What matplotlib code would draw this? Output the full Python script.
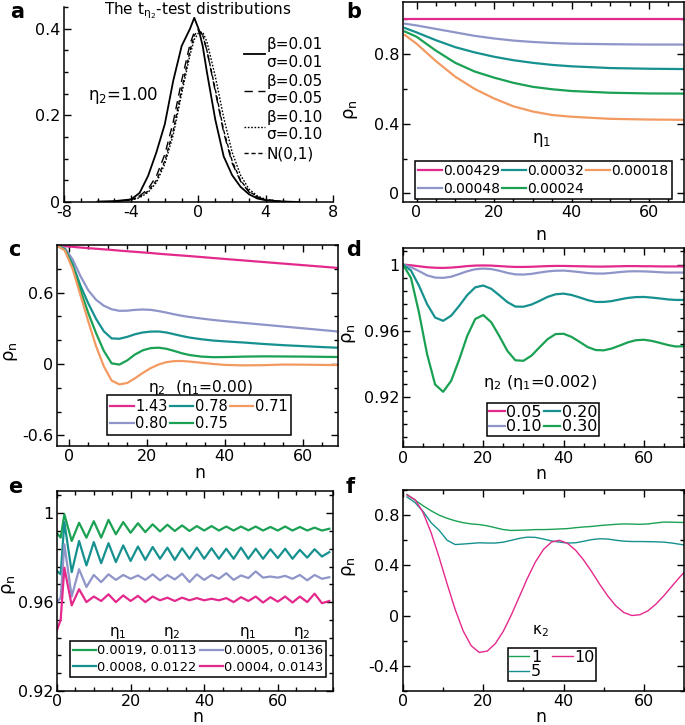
import matplotlib
matplotlib.use("Agg")
import matplotlib.pyplot as plt
from matplotlib.ticker import MultipleLocator, FuncFormatter

plt.rcParams['font.family'] = ['DejaVu Sans']
plt.rcParams['mathtext.fontset'] = 'dejavusans'
plt.rcParams['mathtext.default'] = 'regular'

MAGENTA = '#e4298c'
LAVENDER = '#8f95c8'
TEAL = '#16918f'
GREEN = '#1aa153'
ORANGE = '#f29a62'

# ---- panel a: t-test distributions ----
x_a = [-6, -5, -4, -3.5, -3, -2.5, -2, -1.5, -1, -0.5, -0.25, 0, 0.25, 0.5, 1, 1.5, 2, 2.5, 3, 3.5, 4, 5, 6]
a_b001 = [0.001, 0.002, 0.006, 0.021, 0.06, 0.115, 0.18, 0.28, 0.36, 0.40, 0.425, 0.40, 0.36, 0.30,
          0.19, 0.105, 0.062, 0.035, 0.018, 0.008, 0.004, 0.001, 0.0]
a_b005 = [0.0, 0.001, 0.006, 0.014, 0.03, 0.06, 0.11, 0.185, 0.28, 0.365, 0.392, 0.398, 0.385, 0.35,
          0.255, 0.16, 0.09, 0.048, 0.023, 0.011, 0.005, 0.001, 0.0]
a_b010 = [0.0, 0.001, 0.004, 0.01, 0.022, 0.045, 0.088, 0.155, 0.25, 0.34, 0.375, 0.39, 0.392, 0.37,
          0.29, 0.195, 0.115, 0.062, 0.03, 0.014, 0.006, 0.001, 0.0]
a_norm = [0.0, 0.001, 0.005, 0.012, 0.025, 0.05, 0.095, 0.165, 0.26, 0.35, 0.385, 0.395, 0.385, 0.35,
          0.26, 0.165, 0.095, 0.05, 0.025, 0.012, 0.005, 0.001, 0.0]
a_labels = ['β=0.01\nσ=0.01', 'β=0.05\nσ=0.05', 'β=0.10\nσ=0.10', 'N(0,1)']

# ---- panel b ----
n_b = [-3, 0, 5, 10, 15, 20, 25, 30, 35, 40, 50, 60, 70]
b_eta1 = ['0.00429', '0.00048', '0.00032', '0.00024', '0.00018']
b_vals = [
    [1.0] * 13,
    [0.975, 0.965, 0.945, 0.925, 0.905, 0.89, 0.878, 0.87, 0.864, 0.86, 0.857, 0.855, 0.855],
    [0.95, 0.925, 0.88, 0.84, 0.81, 0.785, 0.765, 0.75, 0.738, 0.73, 0.72, 0.716, 0.714],
    [0.93, 0.90, 0.82, 0.75, 0.70, 0.665, 0.635, 0.612, 0.598, 0.588, 0.578, 0.574, 0.573],
    [0.91, 0.86, 0.76, 0.67, 0.60, 0.545, 0.50, 0.47, 0.45, 0.44, 0.428, 0.424, 0.422],
]
b_colors = [MAGENTA, LAVENDER, TEAL, GREEN, ORANGE]

# ---- panel c ----
n_c = [-3, -1, 1, 3, 5, 7, 9, 11, 13, 15, 17, 19, 21, 23, 25, 27, 29, 31, 34, 37, 40, 45, 50, 55, 60, 65, 70]
c_eta2 = ['1.43', '0.80', '0.78', '0.75', '0.71']
c_vals = [
    [0.995, 0.99, 0.985, 0.979, 0.974, 0.969, 0.964, 0.959, 0.953, 0.948, 0.943, 0.938, 0.933, 0.927,
     0.922, 0.917, 0.912, 0.907, 0.899, 0.891, 0.883, 0.87, 0.857, 0.844, 0.831, 0.818, 0.805],
    [0.995, 0.975, 0.88, 0.74, 0.62, 0.54, 0.49, 0.46, 0.447, 0.448, 0.455, 0.458, 0.455, 0.445,
     0.432, 0.418, 0.405, 0.395, 0.382, 0.37, 0.36, 0.345, 0.33, 0.315, 0.30, 0.285, 0.27],
    [0.995, 0.965, 0.84, 0.66, 0.51, 0.38, 0.275, 0.215, 0.212, 0.228, 0.25, 0.265, 0.272, 0.273,
     0.265, 0.25, 0.235, 0.222, 0.208, 0.197, 0.19, 0.18, 0.168, 0.158, 0.15, 0.142, 0.135],
    [0.995, 0.96, 0.82, 0.62, 0.43, 0.26, 0.11, 0.005, -0.005, 0.03, 0.08, 0.115, 0.133, 0.137,
     0.128, 0.11, 0.09, 0.075, 0.062, 0.057, 0.058, 0.062, 0.064, 0.063, 0.062, 0.06, 0.058],
    [0.995, 0.955, 0.80, 0.58, 0.36, 0.15, -0.02, -0.14, -0.172, -0.16, -0.12, -0.075, -0.035, -0.005,
     0.015, 0.024, 0.025, 0.02, 0.01, 0.0, -0.008, -0.012, -0.01, -0.005, -0.006, -0.008, -0.01],
]
c_colors = [MAGENTA, LAVENDER, TEAL, GREEN, ORANGE]

# ---- panel d ----
n_d = list(range(0, 71, 2))
d_eta2 = ['0.05', '0.10', '0.20', '0.30']
d_vals = [
    [1.0, 0.9996, 0.999, 0.9984, 0.9981, 0.998, 0.9982, 0.9986, 0.9991, 0.9994, 0.9995, 0.9994,
     0.9991, 0.9988, 0.9986, 0.9986, 0.9987, 0.9989, 0.9991, 0.9992, 0.9992, 0.9991, 0.999, 0.9989,
     0.9988, 0.9988, 0.9989, 0.999, 0.9991, 0.9991, 0.999, 0.999, 0.9989, 0.9989, 0.9989, 0.9989],
    [1.0, 0.9984, 0.9961, 0.9935, 0.9922, 0.992, 0.9927, 0.9943, 0.996, 0.9972, 0.9976, 0.9973,
     0.9963, 0.995, 0.9941, 0.994, 0.9944, 0.9952, 0.9959, 0.9963, 0.9964, 0.996, 0.9955, 0.9949,
     0.9946, 0.9946, 0.995, 0.9955, 0.9959, 0.996, 0.9959, 0.9957, 0.9954, 0.9952, 0.9952, 0.9952],
    [1.0, 0.9964, 0.9872, 0.9762, 0.9681, 0.9661, 0.9692, 0.9751, 0.9816, 0.9863, 0.9874, 0.9854,
     0.9815, 0.9774, 0.9747, 0.9746, 0.9759, 0.9781, 0.9805, 0.9821, 0.9825, 0.9817, 0.9802, 0.9786,
     0.9775, 0.9775, 0.978, 0.979, 0.9799, 0.9804, 0.9805, 0.9801, 0.9796, 0.979, 0.9787, 0.9787],
    [1.0, 0.9919, 0.9709, 0.9461, 0.9277, 0.9233, 0.9299, 0.9427, 0.957, 0.9672, 0.9696, 0.9652,
     0.9569, 0.948, 0.9423, 0.942, 0.9451, 0.9501, 0.955, 0.9581, 0.9583, 0.9564, 0.9534, 0.9503,
     0.9485, 0.9483, 0.9494, 0.9512, 0.9531, 0.9544, 0.9547, 0.954, 0.9528, 0.9515, 0.9506, 0.9508],
]
d_colors = [MAGENTA, LAVENDER, TEAL, GREEN]

# ---- panel e ----
n_e = [0, 1] + list(range(2, 75, 2))
e_labels = ['0.0019, 0.0113', '0.0008, 0.0122', '0.0005, 0.0136', '0.0004, 0.0143']
e_vals = [
    [0.991, 0.989, 0.9995, 0.9875, 0.9957, 0.989, 0.9964, 0.989, 0.997, 0.9905, 0.996, 0.9912, 0.9955,
     0.9915, 0.995, 0.9918, 0.9948, 0.992, 0.9945, 0.992, 0.9942, 0.9922, 0.9942, 0.9922, 0.994,
     0.9922, 0.994, 0.9923, 0.994, 0.9922, 0.9938, 0.9922, 0.994, 0.9922, 0.9938, 0.9922, 0.9935,
     0.9922, 0.993],
    [0.974, 0.9725, 0.996, 0.9735, 0.9875, 0.9765, 0.987, 0.9775, 0.9865, 0.978, 0.9855, 0.9785, 0.985,
     0.979, 0.9848, 0.9795, 0.9845, 0.979, 0.9842, 0.9795, 0.9845, 0.9795, 0.9842, 0.9795, 0.984,
     0.9795, 0.9845, 0.9795, 0.984, 0.9795, 0.9838, 0.9798, 0.984, 0.9795, 0.9835, 0.98, 0.9838,
     0.9805, 0.9825],
    [0.96, 0.962, 0.986, 0.9625, 0.9748, 0.9668, 0.9722, 0.969, 0.9725, 0.97, 0.9722, 0.9705, 0.972,
     0.97, 0.9725, 0.9698, 0.9722, 0.9702, 0.9728, 0.969, 0.9725, 0.97, 0.9722, 0.9705, 0.973,
     0.97, 0.972, 0.9708, 0.9738, 0.971, 0.9715, 0.971, 0.9718, 0.9705, 0.9722, 0.9698, 0.9722,
     0.9705, 0.9712],
    [0.9475, 0.952, 0.9755, 0.9585, 0.9658, 0.96, 0.9625, 0.9605, 0.9635, 0.96, 0.963, 0.9605, 0.9628,
     0.96, 0.9625, 0.9608, 0.962, 0.9605, 0.962, 0.9608, 0.9618, 0.9608, 0.9615, 0.9608, 0.9618,
     0.96, 0.9622, 0.9605, 0.9625, 0.9598, 0.9622, 0.9602, 0.9625, 0.9598, 0.9625, 0.96, 0.9638,
     0.9595, 0.9605],
]
e_colors = [GREEN, TEAL, LAVENDER, MAGENTA]

# ---- panel f ----
n_f = list(range(1, 70, 2)) + [70]
f_kappa2 = ['1', '5', '10']
f_vals = [
    [0.965, 0.92, 0.875, 0.835, 0.80, 0.775, 0.755, 0.74, 0.73, 0.725, 0.715, 0.70, 0.685, 0.678,
     0.68, 0.682, 0.685, 0.685, 0.687, 0.69, 0.693, 0.70, 0.706, 0.71, 0.717, 0.722, 0.727, 0.73,
     0.729, 0.727, 0.73, 0.738, 0.745, 0.744, 0.742, 0.742],
    [0.945, 0.90, 0.83, 0.74, 0.68, 0.60, 0.566, 0.57, 0.575, 0.58, 0.578, 0.578, 0.585, 0.60, 0.615,
     0.625, 0.623, 0.61, 0.595, 0.585, 0.578, 0.58, 0.592, 0.605, 0.612, 0.61, 0.60, 0.593, 0.59,
     0.59, 0.589, 0.588, 0.585, 0.578, 0.568, 0.563],
    [0.96, 0.924, 0.821, 0.661, 0.464, 0.252, 0.049, -0.122, -0.24, -0.293, -0.282, -0.223, -0.124,
     0.006, 0.152, 0.298, 0.428, 0.527, 0.586, 0.60, 0.575, 0.521, 0.443, 0.35, 0.25, 0.157, 0.079,
     0.025, 0.001, 0.007, 0.038, 0.091, 0.159, 0.234, 0.309, 0.342],
]
f_colors = [GREEN, TEAL, MAGENTA]

TICKFMT = FuncFormatter(lambda v, p: f'{round(v, 6) + 0:g}')


def style(ax, xmaj, xmin, ymaj, ymin, mirror=True):
    ax.xaxis.set_major_locator(MultipleLocator(xmaj))
    ax.xaxis.set_minor_locator(MultipleLocator(xmin))
    ax.yaxis.set_major_locator(MultipleLocator(ymaj))
    ax.yaxis.set_minor_locator(MultipleLocator(ymin))
    ax.xaxis.set_major_formatter(TICKFMT)
    ax.yaxis.set_major_formatter(TICKFMT)
    ax.tick_params(which='both', direction='in', top=mirror, right=mirror,
                   labelsize=11.5, width=1, pad=2.5)
    ax.tick_params(which='major', length=5)
    ax.tick_params(which='minor', length=3)
    for s in ax.spines.values():
        s.set_linewidth(1.1)


def box_legend(ax, handles, labels, ncol, anchor, fs, hl, cs, ls, bp=0.25):
    leg = ax.legend(handles, labels, ncol=ncol, loc='lower center', bbox_to_anchor=anchor,
                    frameon=True, fancybox=False, edgecolor='black', framealpha=1,
                    fontsize=fs, handlelength=hl, handletextpad=0.1, columnspacing=cs,
                    labelspacing=ls, borderpad=bp, borderaxespad=0)
    leg.get_frame().set_linewidth(1.1)
    return leg


def labels(ax, ylab_xy, xlab_xy):
    ax.set_ylabel(r'$\rho_n$', fontsize=13)
    ax.yaxis.set_label_coords(*ylab_xy)
    ax.set_xlabel('n', fontsize=12.5)
    ax.xaxis.set_label_coords(*xlab_xy)


fig = plt.figure(figsize=(6.85, 7.25), dpi=100)

# panel a
ax = fig.add_axes([0.0934, 0.7214, 0.3927, 0.269])
l1, = ax.plot(x_a, a_b001, color='black', lw=1.3, ls='-')
l2, = ax.plot(x_a, a_b005, color='black', lw=1.0, ls=(0, (6, 4)))
l3, = ax.plot(x_a, a_b010, color='black', lw=1.0, ls=(0, (1.2, 1.2)))
l4, = ax.plot(x_a, a_norm, color='black', lw=1.0, ls=(0, (3, 2)))
ax.set_xlim(-8, 8)
ax.set_ylim(0, 0.45)
style(ax, 4, 1, 0.2, 0.05, mirror=False)
ax.spines['top'].set_visible(False)
ax.spines['right'].set_visible(False)
ax.text(-6.6, 0.245, r'$\eta_2$=1.00', fontsize=12, va='center')
ax.legend([l1, l2, l3, l4], a_labels,
          loc='upper right', bbox_to_anchor=(0.985, 0.875), frameon=False, fontsize=11,
          handlelength=1.4, handletextpad=0.1, labelspacing=0.25, borderaxespad=0)
fig.text(198 / 685, 1 - 11 / 725, r'The t$_{\eta_2}$-test distributions', fontsize=11,
         ha='center', va='center')

# panel b
ax = fig.add_axes([0.5883, 0.7214, 0.4102, 0.2759])
hs = [ax.plot(n_b, v, color=c, lw=1.6)[0] for v, c in zip(b_vals, b_colors)]
ax.set_xlim(-3.5, 69)
ax.set_ylim(-0.05, 1.1)
style(ax, 20, 5, 0.4, 0.2)
box_legend(ax, hs, b_eta1, 3, (0.5, 0.015), 10, 1.7, 0.15, 0.25)
ax.text(0.494, 0.31, r'$\eta_1$', transform=ax.transAxes, fontsize=12, ha='center', va='center')
labels(ax, (-0.153, 0.46), (0.49, -0.12))

# panel c
ax = fig.add_axes([0.0832, 0.3848, 0.4102, 0.2772])
hs = [ax.plot(n_c, v, color=c, lw=1.6)[0] for v, c in zip(c_vals, c_colors)]
ax.set_xlim(-3, 69)
ax.set_ylim(-0.69, 1.0)
style(ax, 20, 5, 0.6, 0.2)
box_legend(ax, hs, c_eta2, 3, (0.505, 0.055), 10.5, 1.6, 0.15, 0.15)
ax.text(0.512, 0.289, r'$\eta_2$  ($\eta_1$=0.00)', transform=ax.transAxes, fontsize=11.2,
        ha='center', va='center')
labels(ax, (-0.132, 0.468), (0.51, -0.09))

# panel d
ax = fig.add_axes([0.5883, 0.3834, 0.4102, 0.2745])
hs = [ax.plot(n_d, v, color=c, lw=1.6)[0] for v, c in zip(d_vals, d_colors)]
ax.set_xlim(0, 70)
ax.set_ylim(0.89, 1.01)
style(ax, 20, 5, 0.04, 0.008)
box_legend(ax, hs, d_eta2, 2, (0.498, 0.055), 11.5, 1.0, 0.15, -0.03, bp=0.1)
ax.text(0.488, 0.325, r'$\eta_2$ ($\eta_1$=0.002)', transform=ax.transAxes, fontsize=11.6,
        ha='center', va='center')
labels(ax, (-0.16, 0.568), (0.49, -0.09))

# panel e
ax = fig.add_axes([0.0832, 0.0469, 0.4029, 0.2759])
hs = [ax.plot(n_e, v, color=c, lw=1.6)[0] for v, c in zip(e_vals, e_colors)]
ax.set_xlim(0, 75)
ax.set_ylim(0.92, 1.01)
style(ax, 20, 5, 0.04, 0.008)
box_legend(ax, hs, e_labels, 2, (0.511, 0.07), 9.4, 1.75, 0.25, 0.25)
for xx, t in zip([0.221, 0.417, 0.692, 0.888],
                 [r'$\eta_1$', r'$\eta_2$', r'$\eta_1$', r'$\eta_2$']):
    ax.text(xx, 0.29, t, transform=ax.transAxes, fontsize=11, ha='center', va='center')
labels(ax, (-0.141, 0.53), (0.51, -0.087))

# panel f
ax = fig.add_axes([0.5883, 0.0469, 0.4102, 0.2772])
hs = [ax.plot(n_f, v, color=c, lw=1.0)[0] for v, c in zip(f_vals, f_colors)]
ax.set_xlim(0, 70)
ax.set_ylim(-0.6, 1.0)
style(ax, 20, 10, 0.4, 0.2)
box_legend(ax, hs, f_kappa2, 2, (0.53, 0.05), 11.5, 1.27, 0.7, -0.03, bp=0.1)
ax.text(0.488, 0.3, r'$\kappa_2$', transform=ax.transAxes, fontsize=11, ha='center', va='center')
labels(ax, (-0.16, 0.617), (0.49, -0.087))

# panel letters
for t, x, y in [('a', 10, 12), ('b', 346, 12), ('c', 8, 250), ('d', 346, 250),
                ('e', 8, 487), ('f', 346, 487)]:
    fig.text(x / 685, 1 - y / 725, t, fontsize=15, fontweight='bold', ha='left', va='center')

fig.savefig('out.png', dpi=100)
